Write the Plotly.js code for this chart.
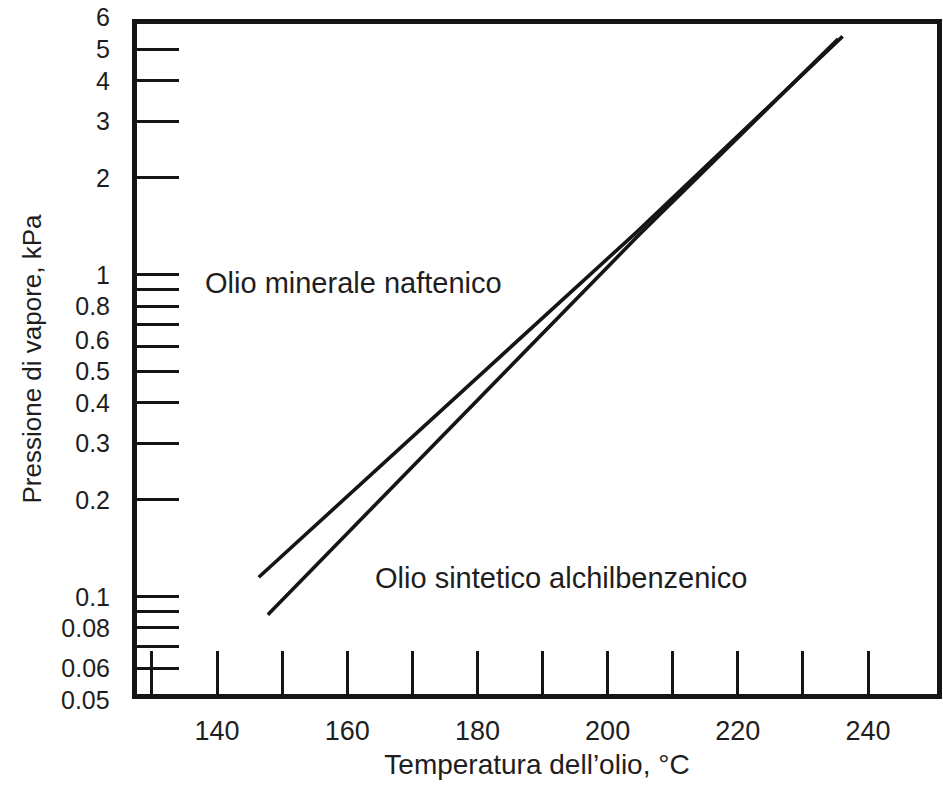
<!DOCTYPE html>
<html>
<head>
<meta charset="utf-8">
<script src="https://cdn.plot.ly/plotly-3.0.1.min.js"></script>
<style>
  html, body { margin: 0; padding: 0; background: #ffffff; }
  #chart { width: 943px; height: 787px; }
</style>
</head>
<body>
<div id="chart"></div>
<script>
// Temperature of the oil (°C) and vapour pressure (kPa)
const tempNaftenico = [146.4, 204.5, 236.1];
const presNaftenico = [0.115, 1.36, 5.5];

const tempAlchil = [147.8, 204.5, 235.4];
const presAlchil = [0.088, 1.31, 5.4];

const seriesNames = ["Olio minerale naftenico", "Olio sintetico alchilbenzenico"];

// Axis ticks
const xTickVals = [130, 140, 150, 160, 170, 180, 190, 200, 210, 220, 230, 240];
const xTickText = ["", "140", "", "160", "", "180", "", "200", "", "220", "", "240"];

const yTickVals = [6, 5, 4, 3, 2, 1, 0.9, 0.8, 0.7, 0.6, 0.5, 0.4, 0.3, 0.2, 0.1, 0.09, 0.08, 0.07, 0.06, 0.05];
const yTickText = ["6", "5", "4", "3", "2", "1", "", "0.8", "", "0.6", "0.5", "0.4", "0.3", "0.2", "0.1", "", "0.08", "", "0.06", "0.05"];
// y tick labels that the original nudges off their tick (drawn as separate texts)
const yNudgedLabels = ["6", "0.6", "0.05"];

const xTitle = "Temperatura dell\u2019olio, °C";
const yTitle = "Pressione di vapore, kPa";

const FONT = "Liberation Sans, Arial, Helvetica, sans-serif";
const INK = "#151515";
const TXT = "#1e1e1e";
const Y_TICK_SIZE = 25;
const Y_STANDOFF = 17;
const NUDGE = { "6": 7, "0.6": 6, "0.05": -6 };

const traces = [
  {
    x: tempNaftenico, y: presNaftenico, name: seriesNames[0],
    type: "scatter", mode: "lines",
    line: { color: INK, width: 3.6 }, hoverinfo: "skip"
  },
  {
    x: tempAlchil, y: presAlchil, name: seriesNames[1],
    type: "scatter", mode: "lines",
    line: { color: INK, width: 3.6 }, hoverinfo: "skip"
  }
];

// axis shows the regular labels; nudged ones are blanked there and drawn as texts
const yAxisText = yTickText.map(t => yNudgedLabels.includes(t) ? "" : t);
const nudgedAnnotations = yNudgedLabels.map(lbl => ({
  text: lbl,
  x: 0, xref: "paper",
  y: Math.log10(yTickVals[yTickText.indexOf(lbl)]), yref: "y",
  xanchor: "right", yanchor: "middle",
  xshift: -(Y_STANDOFF + 9), yshift: NUDGE[lbl],
  showarrow: false, borderpad: 0,
  font: { family: FONT, size: Y_TICK_SIZE, color: TXT }
}));

const layout = {
  width: 943, height: 787,
  margin: { l: 137, r: 6, t: 24, b: 93 },
  paper_bgcolor: "#ffffff", plot_bgcolor: "#ffffff",
  showlegend: false,
  font: { family: FONT, color: TXT, size: 27 },
  xaxis: {
    range: [127.7, 250.6],
    tickmode: "array", tickvals: xTickVals, ticktext: xTickText,
    ticks: "inside", ticklen: 43, tickwidth: 3, tickcolor: INK,
    ticklabelstandoff: 9,
    showline: true, linewidth: 5, linecolor: INK, mirror: true,
    showgrid: false, zeroline: false,
    tickfont: { family: FONT, size: 27, color: TXT },
    title: { text: xTitle, font: { family: FONT, size: 28, color: TXT }, standoff: 10 }
  },
  yaxis: {
    type: "log",
    range: [Math.log10(0.0499), Math.log10(6.01)],
    tickmode: "array", tickvals: yTickVals, ticktext: yAxisText,
    ticks: "inside", ticklen: 42, tickwidth: 3, tickcolor: INK,
    ticklabelstandoff: Y_STANDOFF,
    showline: true, linewidth: 5, linecolor: INK, mirror: true,
    showgrid: false, zeroline: false,
    tickfont: { family: FONT, size: Y_TICK_SIZE, color: TXT },
    title: { text: yTitle, font: { family: FONT, size: 26, color: TXT }, standoff: 14 }
  },
  annotations: [
    {
      text: seriesNames[0], x: 137.8, y: Math.log10(0.94), xref: "x", yref: "y",
      xanchor: "left", yanchor: "middle", showarrow: false,
      font: { family: FONT, size: 29, color: TXT }
    },
    {
      text: seriesNames[1], x: 164.0, y: Math.log10(0.114), xref: "x", yref: "y",
      xanchor: "left", yanchor: "middle", showarrow: false,
      font: { family: FONT, size: 29, color: TXT }
    }
  ].concat(nudgedAnnotations)
};

Plotly.newPlot("chart", traces, layout, { staticPlot: true, displayModeBar: false });
</script>
</body>
</html>
